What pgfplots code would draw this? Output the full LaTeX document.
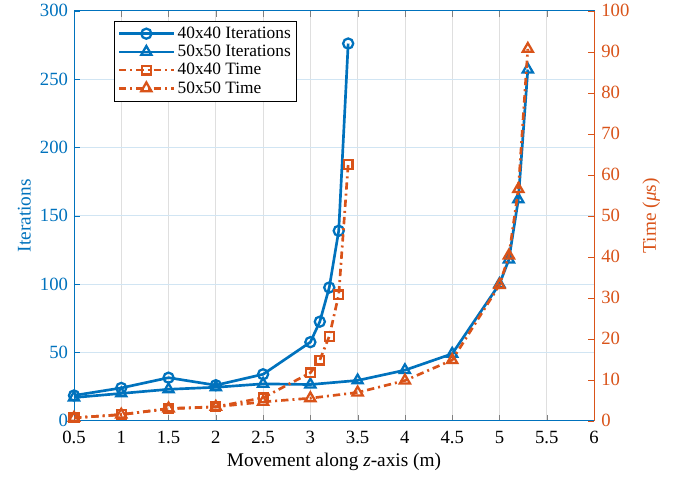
\documentclass[border=0pt]{standalone}
\usepackage{pgfplots}
\pgfplotsset{compat=1.18}
\usepackage{fontspec}
\setmainfont{Liberation Serif}
\definecolor{mblue}{RGB}{0,114,189}
\definecolor{morange}{RGB}{217,83,25}
\begin{document}
\begin{tikzpicture}
\pgfplotsset{
  every axis/.append style={
    scale only axis, width=390pt, height=307.5pt,
    xmin=0.5, xmax=6,
    /pgf/number format/assume math mode=true,
    tick label style={font=\fontsize{14}{16}\selectfont},
    label style={font=\fontsize{14.5}{16}\selectfont},
    tick align=inside,
    major tick length=4.5pt,
  },
  iter/.style={mblue, line width=2pt, mark options={solid, line width=1.7pt, fill=none}},
  time/.style={morange, line width=2pt, dash pattern=on 5.5pt off 3pt on 1.5pt off 3pt, mark options={solid, line width=1.7pt, fill=none}},
}
\path (-55.5pt,-45pt) rectangle (457.5pt,313.5pt);
\begin{axis}[
  at={(0,0)}, anchor=south west,
  ymin=0, ymax=300, ytick={0,50,...,300},
  xtick={0.5,1,...,6},
  ytick pos=left, xticklabel pos=bottom,
  y axis line style={mblue, line width=0.6pt},
  x axis line style={black, line width=0.6pt},
  yticklabel style={mblue, xshift=-1pt},
  xticklabel style={yshift=-4pt},
  ytick style={mblue},
  grid=major,
  x grid style={gray!25, line width=0.5pt},
  y grid style={mblue!18, line width=0.5pt},
  xlabel={Movement along \textit{z}-axis (m)},
  ylabel={Iterations}, ylabel style={mblue},
  xlabel style={yshift=0pt},
]
\addplot[iter, mark=o, mark size=3.8pt] coordinates {
(0.5,18.5) (1,24) (1.5,31.5) (2,26) (2.5,34) (3,57.5) (3.1,72.5) (3.2,97.5) (3.3,139) (3.4,276)};
\addplot[iter, mark=triangle, mark size=4.4pt] coordinates {
(0.5,17) (1,20) (1.5,23) (2,24.5) (2.5,27) (3,26.5) (3.5,29.5) (4,37) (4.5,49) (5,100) (5.1,118) (5.2,162) (5.3,257)};
\end{axis}
\begin{axis}[
  at={(0,0)}, anchor=south west,
  ymin=0, ymax=100, ytick={0,10,...,100},
  axis y line*=right, axis x line=none,
  y axis line style={morange, line width=0.6pt},
  yticklabel style={morange, xshift=2pt},
  ytick style={morange},
  ylabel={Time (\textit{μ}s)}, ylabel style={morange}, ylabel shift=3pt,
  legend style={at={(0.077,0.976)}, anchor=north west, draw=black, line width=0.5pt,
    font=\fontsize{13}{14}\selectfont, row sep=-0.5pt, inner sep=2.5pt},
  legend cell align=left,
  legend image code/.code={\draw[mark repeat=2, mark phase=2] plot coordinates {(0cm,0cm) (0.72cm,0cm) (1.44cm,0cm)};},
]
\addlegendimage{iter, mark=o, mark size=3.8pt}
\addlegendentry{40x40 Iterations}
\addlegendimage{iter, mark=triangle, mark size=4.4pt}
\addlegendentry{50x50 Iterations}
\addplot[time, mark=square, mark size=3.3pt] coordinates {
(0.5,0.7) (1,1.5) (1.5,2.9) (2,3.4) (2.5,5.6) (3,11.7) (3.1,14.8) (3.2,20.6) (3.3,30.7) (3.4,62.5)};
\addlegendentry{40x40 Time}
\addplot[time, mark=triangle, mark size=4.4pt] coordinates {
(0.5,0.7) (1,1.5) (1.5,3.0) (2,3.4) (2.5,4.6) (3,5.5) (3.5,6.9) (4,9.8) (4.5,14.8) (5,33.1) (5.1,40.3) (5.2,56.5) (5.3,90.7)};
\addlegendentry{50x50 Time}
\end{axis}
\end{tikzpicture}
\end{document}
